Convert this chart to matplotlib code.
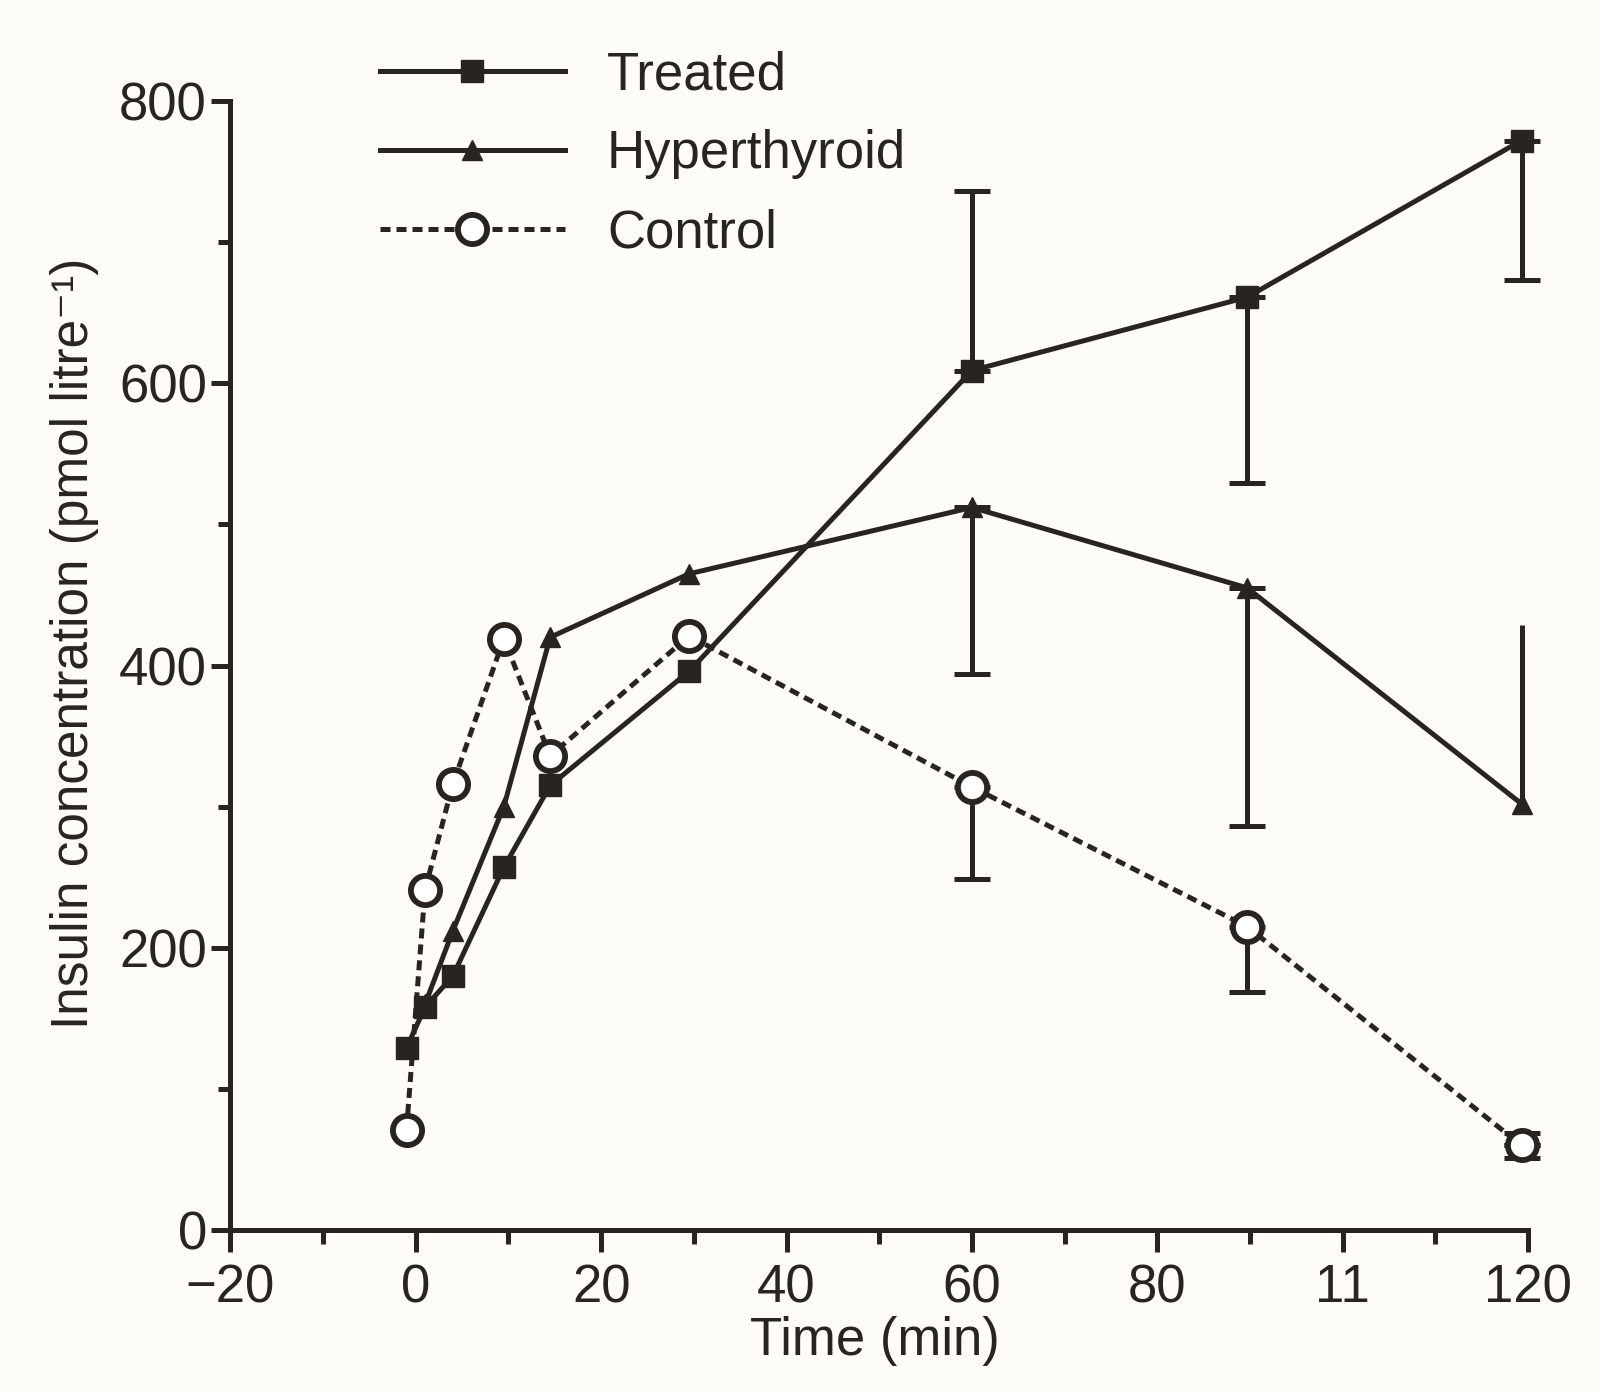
import matplotlib.pyplot as plt
from matplotlib.ticker import MultipleLocator, FixedLocator, FixedFormatter

plt.rcParams['font.family'] = ['Liberation Sans', 'DejaVu Sans']

ink = '#2a2420'
paper = '#fdfcf8'

# sampling times (min), as plotted
times = [-1, 1, 4, 9.5, 14.5, 29.5, 60, 89.7, 119.3]

treated = [129, 158, 180, 257, 315, 396, 609, 661, 772]
treated_lo = [0, 0, 0, 0, 0, 0, 0, 132, 99]
treated_hi = [0, 0, 0, 0, 0, 0, 127, 0, 0]

hyper_times = [1, 4, 9.5, 14.5, 29.5, 60, 89.7, 119.3]
hyper = [160, 212, 300, 420, 465, 512, 455, 302]
hyper_lo = [0, 0, 0, 0, 0, 118, 169, 0]
hyper_hi = [0, 0, 0, 0, 0, 0, 0, 127]   # drawn without a cap

control = [71, 241, 316, 419, 336, 421, 314, 215, 60]
control_lo = [0, 0, 0, 0, 0, 0, 65, 46, 9]
control_hi = [0, 0, 0, 0, 0, 0, 0, 0, 9]

xtick_pos = [-20, 0, 20, 40, 60, 80, 100, 120]
xtick_labels = ['\u221220', '0', '20', '40', '60', '80', '11', '120']

fig = plt.figure(figsize=(16, 13.91), dpi=100, facecolor=paper)
ax = fig.add_axes([0.144, 0.1157, 0.811, 0.8117])
ax.set_facecolor(paper)

lw = 3.6


def bars(x, y, err, upper, cap):
    # only the points that actually carry an error bar
    keep = [i for i, e in enumerate(err) if e > 0]
    if not keep:
        return
    xs = [x[i] for i in keep]
    ys = [y[i] for i in keep]
    es = [err[i] for i in keep]
    zero = [0] * len(keep)
    yerr = [zero, es] if upper else [es, zero]
    ax.errorbar(xs, ys, yerr=yerr, fmt='none', ecolor=ink, elinewidth=lw,
                capsize=13 if cap else 0, capthick=lw, zorder=2)


bars(times, treated, treated_lo, False, True)
bars(times, treated, treated_hi, True, True)
bars(hyper_times, hyper, hyper_lo, False, True)
bars(hyper_times, hyper, hyper_hi, True, False)
bars(times, control, control_lo, False, True)
bars(times, control, control_hi, True, True)

h_treat, = ax.plot(times, treated, color=ink, lw=lw, marker='s', ms=16,
                   mfc=ink, mec=ink, label='Treated', zorder=3)
h_hyper, = ax.plot(hyper_times, hyper, color=ink, lw=lw, marker='^', ms=14,
                   mfc=ink, mec=ink, label='Hyperthyroid', zorder=3)
h_ctrl, = ax.plot(times, control, color=ink, lw=lw, ls=(0, (2.0, 1.2)),
                  marker='o', ms=21, mfc='white', mec=ink, mew=4.2,
                  label='Control', zorder=4)

ax.set_xlim(-20, 120)
ax.set_ylim(0, 800)
ax.xaxis.set_major_locator(FixedLocator(xtick_pos))
ax.xaxis.set_major_formatter(FixedFormatter(xtick_labels))
ax.xaxis.set_minor_locator(MultipleLocator(10))
ax.yaxis.set_major_locator(MultipleLocator(200))
ax.yaxis.set_minor_locator(MultipleLocator(100))

for s in ['top', 'right']:
    ax.spines[s].set_visible(False)
for s in ['left', 'bottom']:
    ax.spines[s].set_linewidth(lw)
    ax.spines[s].set_color(ink)
    ax.spines[s].set_capstyle('projecting')

ax.tick_params(axis='both', which='major', colors=ink, width=lw, labelsize=38)
ax.tick_params(axis='x', which='major', length=16, pad=8)
ax.tick_params(axis='x', which='minor', length=10, width=lw, color=ink)
ax.tick_params(axis='y', which='major', length=14, pad=3)
ax.tick_params(axis='y', which='minor', length=9, width=lw, color=ink)

ax.set_xlabel('Time (min)', fontsize=38, color=ink)
ax.xaxis.set_label_coords(0.497, -0.076)
ax.set_ylabel('Insulin concentration (pmol litre\u207b\u00b9)', fontsize=37, color=ink)
ax.yaxis.set_label_coords(-0.101, 0.52)

leg = ax.legend(handles=[h_treat, h_hyper, h_ctrl], loc='upper left',
                bbox_to_anchor=(380 / 1600, 1 - 50 / 1391),
                bbox_transform=fig.transFigure, frameon=False, fontsize=38,
                handlelength=3.5, handletextpad=0.8, labelspacing=0.55,
                borderpad=0, borderaxespad=0, numpoints=1)
for t in leg.get_texts():
    t.set_color(ink)
for ln in ax.lines:
    ln.set_clip_on(False)

fig.savefig('out.png', dpi=100, facecolor=paper)
